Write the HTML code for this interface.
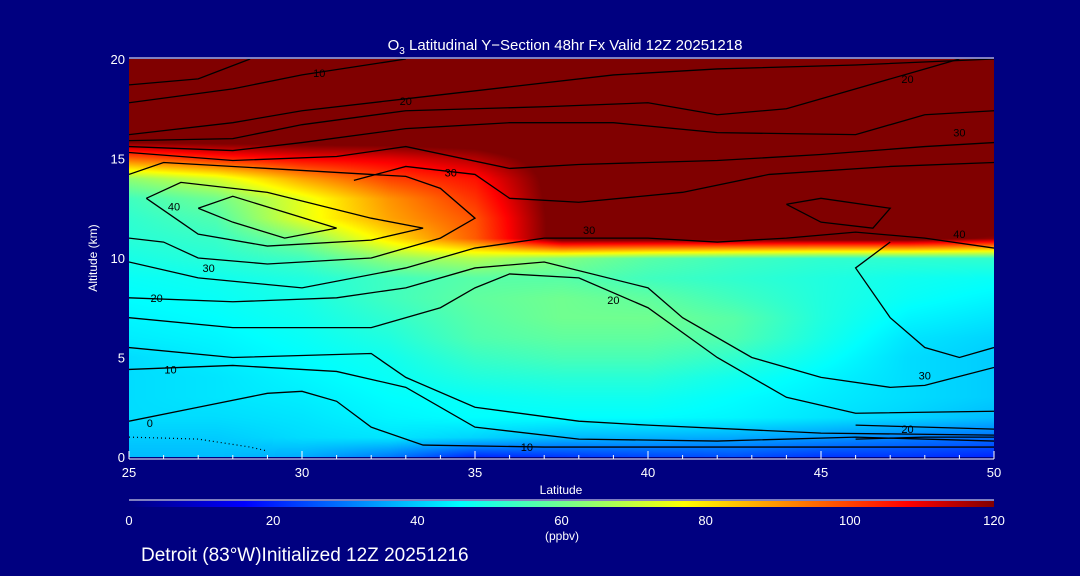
<!DOCTYPE html>
<html><head><meta charset="utf-8">
<style>
html,body{margin:0;padding:0;background:#000080;}
#wrap{position:relative;width:1080px;height:576px;background:#000080;overflow:hidden;font-family:"Liberation Sans","DejaVu Sans",sans-serif;color:#fff;}
svg text{font-family:"Liberation Sans","DejaVu Sans",sans-serif;}
canvas{position:absolute;left:129px;top:59px;}
</style></head>
<body>
<div id="wrap">
<canvas id="field" width="865" height="398"></canvas>
<svg id="svg" width="1080" height="576" style="position:absolute;left:0;top:0"></svg>
</div>
<script>
// ---- data ----
const lats = [25,27.5,30,32.5,35,37.5,40,42.5,45,47.5,50];
const alts = [0,1,2,3,4,5,6,7,8,9,10,11,12,13,14,15,16,17,18,19,20];
const ozone = [
[38,38,36,30,20,22,24,25,22,22,20],
[40,40,42,43,41,38,37,36,34,31,29],
[42,42,43,45,46,46,46,45,43,41,38],
[42,43,44,46,47,48,48,46,44,42,40],
[42,43,45,47,50,51,51,48,45,42,40],
[42,44,46,48,53,55,55,52,47,42,40],
[44,45,47,50,56,58,58,56,49,43,41],
[45,46,48,52,57,60,60,57,50,45,43],
[46,47,49,54,58,60,58,54,50,47,45],
[47,48,50,54,57,57,54,52,50,48,47],
[49,51,54,64,68,62,57,54,52,52,52],
[51,53,62,80,97,125,125,125,125,125,118],
[52,56,74,88,98,125,130,130,130,130,130],
[54,60,74,90,102,125,130,130,130,130,130],
[64,72,88,100,106,125,130,130,130,130,130],
[95,103,108,110,115,125,130,130,130,130,130],
[125,125,125,125,125,130,130,130,130,130,130],
[130,130,130,130,130,130,130,130,130,130,130],
[130,130,130,130,130,130,130,130,130,130,130],
[130,130,130,130,130,130,130,130,130,130,130],
[130,130,130,130,130,130,130,130,130,130,130]];
const xTicks = [25,30,35,40,45,50];
const yTicks = [0,5,10,15,20];
const cbTicks = [0,20,40,60,80,100,120];
// contour lines: [lat, alt] pairs
const contours = [
[[25,18.7],[27,19.0],[28.5,20]],
[[25,17.8],[28,18.5],[30,19.2],[33,20]],
[[25,16.2],[28,16.8],[30,17.4],[33,18.0],[36,18.6],[39,19.2],[42,19.5],[46,19.7],[50,20]],
[[25,15.9],[28,16.0],[30,16.7],[33,17.4],[37,17.6],[40,17.8],[42,17.2],[44,17.5],[46,18.5],[48,19.5],[49,20]],
[[25,15.6],[28,15.4],[30,15.8],[33,16.5],[36,16.8],[39,16.8],[42,16.3],[46,16.2],[48,17.2],[50,17.4]],
[[25,15.3],[28,14.9],[31,15.1],[33,15.6],[36,14.5],[38,14.7],[42,14.9],[45,15.2],[48,15.6],[50,15.8]],
[[25,14.2],[26,14.8],[29,14.5],[33,14.1],[34,13.5],[35,12],[34,11],[32,10],[29,9.7],[27,10],[26,10.8],[25,11]],
[[25.5,13],[26.5,13.8],[29,13.3],[32,12],[33.5,11.5],[32,10.9],[29,10.6],[27,11.2],[26.5,11.8],[25.5,13]],
[[27,12.5],[28,13.1],[31,11.5],[29.5,11],[28,11.8],[27,12.5]],
[[31.5,13.9],[33,14.6],[35,14.2],[36,13.0],[38,12.8],[41,13.3],[43.5,14.2],[47,14.6],[50,14.8]],
[[25,9.8],[27,9],[30,8.5],[33,9.5],[35,10.5],[37,11],[40,11],[42,10.8],[44,11],[46,11.3],[48,11.0],[50,10.5]],
[[44,12.7],[45,13],[47,12.5],[46.5,11.5],[45,11.8],[44,12.7]],
[[25,8],[28,7.8],[31,8],[33,8.5],[35,9.5],[37,9.8],[40,8.5],[41,7],[43,5],[45,4],[47,3.5],[48,3.6],[50,4.5]],
[[47,10.8],[46,9.5],[47,7],[48,5.5],[49,5],[50,5.5]],
[[25,7],[28,6.5],[32,6.5],[34,7.5],[35,8.5],[36,9.2],[38,9],[40,7.5],[42,5],[44,3],[46,2.2],[50,2.3]],
[[25,5.5],[28,5],[32,5.2],[33,4],[35,2.5],[38,1.8],[40,1.6],[45,1.2],[50,1.1]],
[[25,4.4],[28,4.6],[31,4.3],[33,3.5],[35,1.5],[38,0.9],[42,0.8],[46,1],[50,0.8]],
[[25,1.8],[27,2.5],[29,3.2],[30,3.3],[31,2.8],[32,1.5],[33.5,0.6],[37,0.5],[45,0.5],[50,0.5]],
[[46,1.6],[48,1.5],[50,1.4]],[[46,0.9],[48,1.0],[50,1.0]]
];
const dotted = [[25,1],[27,0.9],[28.5,0.5],[29,0.3]];
const cLabels = [[30.5,19.3,"10"],[33,17.9,"20"],[47.5,19,"20"],[49,16.3,"30"],[34.3,14.3,"30"],[26.3,12.6,"40"],[27.3,9.5,"30"],[25.8,8,"20"],[26.2,4.4,"10"],[25.6,1.7,"0"],[38.3,11.4,"30"],[49,11.2,"40"],[39,7.9,"20"],[48,4.1,"30"],[36.5,0.5,"10"],[47.5,1.4,"20"]];

// ---- scales ----
const X0=129,X1=994,Y0=457,Y1=59;
const xs = v => X0+(v-25)/25*(X1-X0);
const ys = v => Y0-v/20*(Y0-Y1);
const stops=[[0,[0,0,128]],[16,[0,0,255]],[46,[0,255,255]],[62,[128,255,128]],[77,[255,255,0]],[108,[255,0,0]],[120,[128,0,0]]];
function cmap(v){v=Math.max(0,Math.min(120,v));for(let i=1;i<stops.length;i++){if(v<=stops[i][0]){const a=stops[i-1],b=stops[i],t=(v-a[0])/(b[0]-a[0]);return a[1].map((c,k)=>Math.round(c+(b[1][k]-c)*t));}}return stops[stops.length-1][1];}
function val(lat,alt){
  let fi=(lat-25)/2.5, fj=alt;
  let i=Math.min(Math.floor(fi),lats.length-2), j=Math.min(Math.floor(fj),alts.length-2);
  let tx=fi-i, ty=fj-j;
  return ozone[j][i]*(1-tx)*(1-ty)+ozone[j][i+1]*tx*(1-ty)+ozone[j+1][i]*(1-tx)*ty+ozone[j+1][i+1]*tx*ty;
}
const cv=document.getElementById('field'),ctx=cv.getContext('2d');
const img=ctx.createImageData(cv.width,cv.height);
for(let py=0;py<cv.height;py++)for(let px=0;px<cv.width;px++){
  const lat=25+px/cv.width*25, alt=20-py/cv.height*20;
  const c=cmap(val(lat,alt)),k=(py*cv.width+px)*4;
  img.data[k]=c[0];img.data[k+1]=c[1];img.data[k+2]=c[2];img.data[k+3]=255;
}
ctx.putImageData(img,0,0);

const svg=document.getElementById('svg'),NS='http://www.w3.org/2000/svg';
function mk(t,a,p){const e=document.createElementNS(NS,t);for(const k in a)e.setAttribute(k,a[k]);(p||svg).appendChild(e);return e;}
const clip=mk('clipPath',{id:'pc'});mk('rect',{x:X0,y:Y1,width:X1-X0,height:Y0-Y1},clip);
contours.forEach(ln=>{
  const e=mk('polyline',{points:ln.map(p=>xs(p[0])+','+ys(p[1])).join(' '),fill:'none',stroke:'#000','stroke-width':1.3,'clip-path':'url(#pc)'});
  
  
});
const dl=mk('polyline',{points:dotted.map(p=>xs(p[0])+','+ys(p[1])).join(' '),fill:'none',stroke:'#000','stroke-width':1.2,'stroke-dasharray':'1,3'});


cLabels.forEach(l=>{
  const t=mk('text',{x:xs(l[0]),y:ys(l[1])+4,'font-size':11,fill:'#000','text-anchor':'middle'});t.textContent=l[2];
  
  
});
// frame
mk('line',{x1:X0,y1:Y1-1,x2:X1,y2:Y1-1,stroke:'#fff','stroke-width':1});
mk('line',{x1:X0,y1:Y0+2,x2:X1,y2:Y0+2,stroke:'#fff','stroke-width':1});
for(let l=25;l<=50;l++){const major=l%5==0;mk('line',{x1:xs(l),y1:Y0+2,x2:xs(l),y2:Y0+2-(major?8:4),stroke:'#fff'});}
xTicks.forEach(v=>{const t=mk('text',{x:xs(v),y:477,'font-size':13,fill:'#fff','text-anchor':'middle'});t.textContent=v;
  
  });
yTicks.forEach(v=>{const t=mk('text',{x:125,y:ys(v)+5,'font-size':13,fill:'#fff','text-anchor':'end'});t.textContent=v;
  
  });
// colorbar
const g=mk('linearGradient',{id:'cb'});
stops.forEach(s=>mk('stop',{offset:(s[0]/120*100)+'%','stop-color':'rgb('+s[1].join(',')+')'},g));
mk('line',{x1:X0,y1:500,x2:X1,y2:500,stroke:'#fff'});
const cb=mk('rect',{x:X0,y:501,width:X1-X0,height:6,fill:'url(#cb)'});


cbTicks.forEach(v=>{const t=mk('text',{x:X0+v/120*(X1-X0),y:525,'font-size':13,fill:'#fff','text-anchor':'middle'});t.textContent=v;
  
  });
</script>
<svg width="1080" height="576" style="position:absolute;left:0;top:0;pointer-events:none">
<text x="565" y="50" font-size="15" fill="#fff" text-anchor="middle">O<tspan font-size="10" dy="4">3</tspan><tspan dy="-4"> Latitudinal Y−Section 48hr  Fx Valid 12Z 20251218</tspan></text>
<text x="97" y="258" font-size="12" fill="#fff" text-anchor="middle" transform="rotate(-90 97 258)">Altitude (km)</text>
<text x="561" y="494" font-size="12" fill="#fff" text-anchor="middle">Latitude</text>
<text x="562" y="540" font-size="12" fill="#fff" text-anchor="middle">(ppbv)</text>
<text x="141" y="561" font-size="19" fill="#fff">Detroit (83°W)Initialized 12Z 20251216</text>
</svg>
</body></html>
